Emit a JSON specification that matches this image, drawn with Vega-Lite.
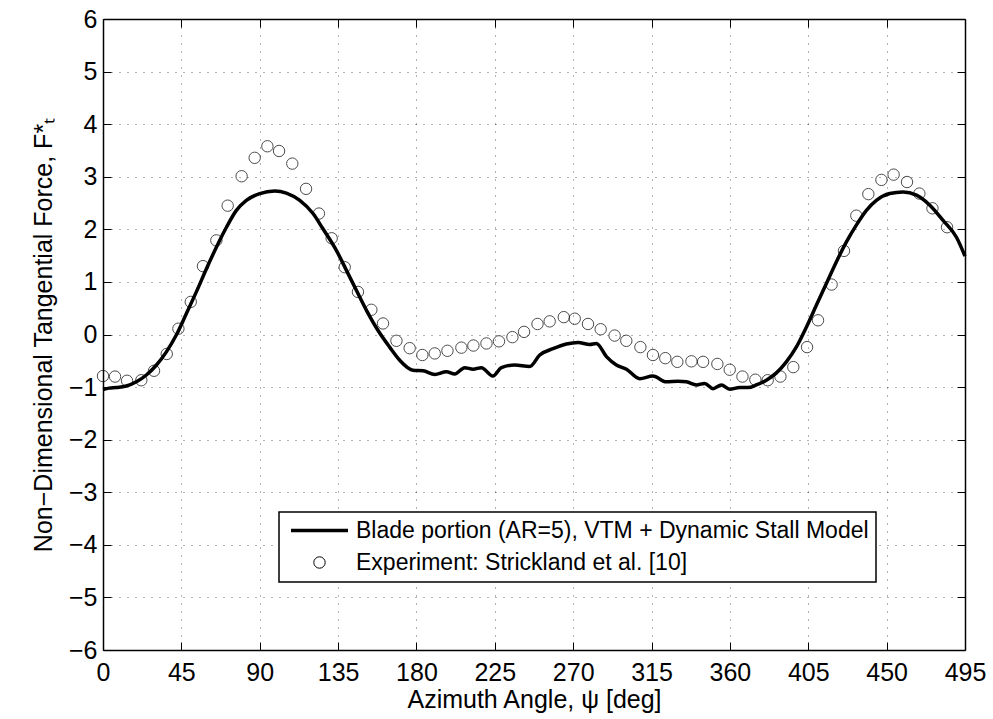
{
  "$schema": "https://vega.github.io/schema/vega-lite/v6.json",
  "width": 862,
  "height": 631,
  "autosize": {"type": "none"},
  "padding": {"left": 103, "top": 19, "right": 28, "bottom": 69},
  "background": "white",
  "datasets": {
    "line": [
      {"psi": 0, "FT": -1.045, "series": "Blade portion (AR=5), VTM + Dynamic Stall Model"},
      {"psi": 3.5, "FT": -1.02, "series": "Blade portion (AR=5), VTM + Dynamic Stall Model"},
      {"psi": 7.7, "FT": -1.01, "series": "Blade portion (AR=5), VTM + Dynamic Stall Model"},
      {"psi": 13.4, "FT": -0.98, "series": "Blade portion (AR=5), VTM + Dynamic Stall Model"},
      {"psi": 19.2, "FT": -0.9, "series": "Blade portion (AR=5), VTM + Dynamic Stall Model"},
      {"psi": 24.9, "FT": -0.77, "series": "Blade portion (AR=5), VTM + Dynamic Stall Model"},
      {"psi": 30.7, "FT": -0.58, "series": "Blade portion (AR=5), VTM + Dynamic Stall Model"},
      {"psi": 36.4, "FT": -0.33, "series": "Blade portion (AR=5), VTM + Dynamic Stall Model"},
      {"psi": 42.1, "FT": -0.01, "series": "Blade portion (AR=5), VTM + Dynamic Stall Model"},
      {"psi": 47.9, "FT": 0.4, "series": "Blade portion (AR=5), VTM + Dynamic Stall Model"},
      {"psi": 53.6, "FT": 0.81, "series": "Blade portion (AR=5), VTM + Dynamic Stall Model"},
      {"psi": 59.4, "FT": 1.25, "series": "Blade portion (AR=5), VTM + Dynamic Stall Model"},
      {"psi": 65.1, "FT": 1.66, "series": "Blade portion (AR=5), VTM + Dynamic Stall Model"},
      {"psi": 70.9, "FT": 2.04, "series": "Blade portion (AR=5), VTM + Dynamic Stall Model"},
      {"psi": 76.6, "FT": 2.36, "series": "Blade portion (AR=5), VTM + Dynamic Stall Model"},
      {"psi": 82.3, "FT": 2.55, "series": "Blade portion (AR=5), VTM + Dynamic Stall Model"},
      {"psi": 90, "FT": 2.68, "series": "Blade portion (AR=5), VTM + Dynamic Stall Model"},
      {"psi": 98.6, "FT": 2.73, "series": "Blade portion (AR=5), VTM + Dynamic Stall Model"},
      {"psi": 105.3, "FT": 2.69, "series": "Blade portion (AR=5), VTM + Dynamic Stall Model"},
      {"psi": 113, "FT": 2.55, "series": "Blade portion (AR=5), VTM + Dynamic Stall Model"},
      {"psi": 120.6, "FT": 2.3, "series": "Blade portion (AR=5), VTM + Dynamic Stall Model"},
      {"psi": 126.3, "FT": 2.01, "series": "Blade portion (AR=5), VTM + Dynamic Stall Model"},
      {"psi": 134, "FT": 1.6, "series": "Blade portion (AR=5), VTM + Dynamic Stall Model"},
      {"psi": 139.8, "FT": 1.22, "series": "Blade portion (AR=5), VTM + Dynamic Stall Model"},
      {"psi": 145.5, "FT": 0.84, "series": "Blade portion (AR=5), VTM + Dynamic Stall Model"},
      {"psi": 151.3, "FT": 0.46, "series": "Blade portion (AR=5), VTM + Dynamic Stall Model"},
      {"psi": 157.5, "FT": 0.1, "series": "Blade portion (AR=5), VTM + Dynamic Stall Model"},
      {"psi": 164.6, "FT": -0.24, "series": "Blade portion (AR=5), VTM + Dynamic Stall Model"},
      {"psi": 170.4, "FT": -0.49, "series": "Blade portion (AR=5), VTM + Dynamic Stall Model"},
      {"psi": 178, "FT": -0.68, "series": "Blade portion (AR=5), VTM + Dynamic Stall Model"},
      {"psi": 183.8, "FT": -0.69, "series": "Blade portion (AR=5), VTM + Dynamic Stall Model"},
      {"psi": 190.5, "FT": -0.76, "series": "Blade portion (AR=5), VTM + Dynamic Stall Model"},
      {"psi": 197.2, "FT": -0.71, "series": "Blade portion (AR=5), VTM + Dynamic Stall Model"},
      {"psi": 202, "FT": -0.75, "series": "Blade portion (AR=5), VTM + Dynamic Stall Model"},
      {"psi": 207.7, "FT": -0.63, "series": "Blade portion (AR=5), VTM + Dynamic Stall Model"},
      {"psi": 212.5, "FT": -0.66, "series": "Blade portion (AR=5), VTM + Dynamic Stall Model"},
      {"psi": 217.3, "FT": -0.63, "series": "Blade portion (AR=5), VTM + Dynamic Stall Model"},
      {"psi": 223.9, "FT": -0.79, "series": "Blade portion (AR=5), VTM + Dynamic Stall Model"},
      {"psi": 228.8, "FT": -0.63, "series": "Blade portion (AR=5), VTM + Dynamic Stall Model"},
      {"psi": 236.4, "FT": -0.58, "series": "Blade portion (AR=5), VTM + Dynamic Stall Model"},
      {"psi": 245, "FT": -0.61, "series": "Blade portion (AR=5), VTM + Dynamic Stall Model"},
      {"psi": 250.8, "FT": -0.39, "series": "Blade portion (AR=5), VTM + Dynamic Stall Model"},
      {"psi": 258.4, "FT": -0.27, "series": "Blade portion (AR=5), VTM + Dynamic Stall Model"},
      {"psi": 266.1, "FT": -0.18, "series": "Blade portion (AR=5), VTM + Dynamic Stall Model"},
      {"psi": 272.8, "FT": -0.15, "series": "Blade portion (AR=5), VTM + Dynamic Stall Model"},
      {"psi": 279.5, "FT": -0.19, "series": "Blade portion (AR=5), VTM + Dynamic Stall Model"},
      {"psi": 283.3, "FT": -0.17, "series": "Blade portion (AR=5), VTM + Dynamic Stall Model"},
      {"psi": 289.1, "FT": -0.42, "series": "Blade portion (AR=5), VTM + Dynamic Stall Model"},
      {"psi": 294.8, "FT": -0.58, "series": "Blade portion (AR=5), VTM + Dynamic Stall Model"},
      {"psi": 300.6, "FT": -0.66, "series": "Blade portion (AR=5), VTM + Dynamic Stall Model"},
      {"psi": 308.2, "FT": -0.84, "series": "Blade portion (AR=5), VTM + Dynamic Stall Model"},
      {"psi": 315.8, "FT": -0.79, "series": "Blade portion (AR=5), VTM + Dynamic Stall Model"},
      {"psi": 323.5, "FT": -0.9, "series": "Blade portion (AR=5), VTM + Dynamic Stall Model"},
      {"psi": 330.2, "FT": -0.89, "series": "Blade portion (AR=5), VTM + Dynamic Stall Model"},
      {"psi": 335, "FT": -0.9, "series": "Blade portion (AR=5), VTM + Dynamic Stall Model"},
      {"psi": 340.8, "FT": -0.96, "series": "Blade portion (AR=5), VTM + Dynamic Stall Model"},
      {"psi": 345.5, "FT": -0.93, "series": "Blade portion (AR=5), VTM + Dynamic Stall Model"},
      {"psi": 350.3, "FT": -1.03, "series": "Blade portion (AR=5), VTM + Dynamic Stall Model"},
      {"psi": 355.1, "FT": -0.96, "series": "Blade portion (AR=5), VTM + Dynamic Stall Model"},
      {"psi": 359.9, "FT": -1.04, "series": "Blade portion (AR=5), VTM + Dynamic Stall Model"},
      {"psi": 365.6, "FT": -1.01, "series": "Blade portion (AR=5), VTM + Dynamic Stall Model"},
      {"psi": 370.4, "FT": -1.01, "series": "Blade portion (AR=5), VTM + Dynamic Stall Model"},
      {"psi": 375.2, "FT": -0.96, "series": "Blade portion (AR=5), VTM + Dynamic Stall Model"},
      {"psi": 380.9, "FT": -0.87, "series": "Blade portion (AR=5), VTM + Dynamic Stall Model"},
      {"psi": 386.7, "FT": -0.73, "series": "Blade portion (AR=5), VTM + Dynamic Stall Model"},
      {"psi": 392.4, "FT": -0.52, "series": "Blade portion (AR=5), VTM + Dynamic Stall Model"},
      {"psi": 398.1, "FT": -0.24, "series": "Blade portion (AR=5), VTM + Dynamic Stall Model"},
      {"psi": 403.9, "FT": 0.14, "series": "Blade portion (AR=5), VTM + Dynamic Stall Model"},
      {"psi": 409.7, "FT": 0.56, "series": "Blade portion (AR=5), VTM + Dynamic Stall Model"},
      {"psi": 415.4, "FT": 0.97, "series": "Blade portion (AR=5), VTM + Dynamic Stall Model"},
      {"psi": 421.1, "FT": 1.38, "series": "Blade portion (AR=5), VTM + Dynamic Stall Model"},
      {"psi": 426.9, "FT": 1.76, "series": "Blade portion (AR=5), VTM + Dynamic Stall Model"},
      {"psi": 432.6, "FT": 2.08, "series": "Blade portion (AR=5), VTM + Dynamic Stall Model"},
      {"psi": 438.4, "FT": 2.36, "series": "Blade portion (AR=5), VTM + Dynamic Stall Model"},
      {"psi": 444.1, "FT": 2.55, "series": "Blade portion (AR=5), VTM + Dynamic Stall Model"},
      {"psi": 451.8, "FT": 2.68, "series": "Blade portion (AR=5), VTM + Dynamic Stall Model"},
      {"psi": 459.4, "FT": 2.71, "series": "Blade portion (AR=5), VTM + Dynamic Stall Model"},
      {"psi": 467.1, "FT": 2.65, "series": "Blade portion (AR=5), VTM + Dynamic Stall Model"},
      {"psi": 474.8, "FT": 2.46, "series": "Blade portion (AR=5), VTM + Dynamic Stall Model"},
      {"psi": 482.4, "FT": 2.17, "series": "Blade portion (AR=5), VTM + Dynamic Stall Model"},
      {"psi": 490.1, "FT": 1.85, "series": "Blade portion (AR=5), VTM + Dynamic Stall Model"},
      {"psi": 495, "FT": 1.49, "series": "Blade portion (AR=5), VTM + Dynamic Stall Model"}
    ],
    "exp": [
      {"psi": 0, "FT": -0.79, "series": "Experiment: Strickland et al. [10]"},
      {"psi": 6.9, "FT": -0.8, "series": "Experiment: Strickland et al. [10]"},
      {"psi": 13.8, "FT": -0.88, "series": "Experiment: Strickland et al. [10]"},
      {"psi": 22, "FT": -0.87, "series": "Experiment: Strickland et al. [10]"},
      {"psi": 29.3, "FT": -0.69, "series": "Experiment: Strickland et al. [10]"},
      {"psi": 36.6, "FT": -0.37, "series": "Experiment: Strickland et al. [10]"},
      {"psi": 43.3, "FT": 0.11, "series": "Experiment: Strickland et al. [10]"},
      {"psi": 50.4, "FT": 0.62, "series": "Experiment: Strickland et al. [10]"},
      {"psi": 57.4, "FT": 1.3, "series": "Experiment: Strickland et al. [10]"},
      {"psi": 65.1, "FT": 1.79, "series": "Experiment: Strickland et al. [10]"},
      {"psi": 71.6, "FT": 2.45, "series": "Experiment: Strickland et al. [10]"},
      {"psi": 79.6, "FT": 3.01, "series": "Experiment: Strickland et al. [10]"},
      {"psi": 87.1, "FT": 3.36, "series": "Experiment: Strickland et al. [10]"},
      {"psi": 94.4, "FT": 3.58, "series": "Experiment: Strickland et al. [10]"},
      {"psi": 101.1, "FT": 3.49, "series": "Experiment: Strickland et al. [10]"},
      {"psi": 108.7, "FT": 3.25, "series": "Experiment: Strickland et al. [10]"},
      {"psi": 116.6, "FT": 2.77, "series": "Experiment: Strickland et al. [10]"},
      {"psi": 124, "FT": 2.3, "series": "Experiment: Strickland et al. [10]"},
      {"psi": 131.3, "FT": 1.83, "series": "Experiment: Strickland et al. [10]"},
      {"psi": 138.8, "FT": 1.28, "series": "Experiment: Strickland et al. [10]"},
      {"psi": 146.4, "FT": 0.81, "series": "Experiment: Strickland et al. [10]"},
      {"psi": 154.1, "FT": 0.47, "series": "Experiment: Strickland et al. [10]"},
      {"psi": 160.8, "FT": 0.21, "series": "Experiment: Strickland et al. [10]"},
      {"psi": 168.5, "FT": -0.12, "series": "Experiment: Strickland et al. [10]"},
      {"psi": 176.1, "FT": -0.26, "series": "Experiment: Strickland et al. [10]"},
      {"psi": 183.4, "FT": -0.39, "series": "Experiment: Strickland et al. [10]"},
      {"psi": 190.5, "FT": -0.36, "series": "Experiment: Strickland et al. [10]"},
      {"psi": 197.8, "FT": -0.31, "series": "Experiment: Strickland et al. [10]"},
      {"psi": 205.8, "FT": -0.25, "series": "Experiment: Strickland et al. [10]"},
      {"psi": 212.7, "FT": -0.21, "series": "Experiment: Strickland et al. [10]"},
      {"psi": 220.2, "FT": -0.17, "series": "Experiment: Strickland et al. [10]"},
      {"psi": 227.4, "FT": -0.13, "series": "Experiment: Strickland et al. [10]"},
      {"psi": 235.1, "FT": -0.05, "series": "Experiment: Strickland et al. [10]"},
      {"psi": 241.8, "FT": 0.05, "series": "Experiment: Strickland et al. [10]"},
      {"psi": 249.5, "FT": 0.2, "series": "Experiment: Strickland et al. [10]"},
      {"psi": 256.5, "FT": 0.25, "series": "Experiment: Strickland et al. [10]"},
      {"psi": 264.6, "FT": 0.33, "series": "Experiment: Strickland et al. [10]"},
      {"psi": 270.9, "FT": 0.3, "series": "Experiment: Strickland et al. [10]"},
      {"psi": 278.5, "FT": 0.2, "series": "Experiment: Strickland et al. [10]"},
      {"psi": 285.8, "FT": 0.1, "series": "Experiment: Strickland et al. [10]"},
      {"psi": 293.8, "FT": -0.02, "series": "Experiment: Strickland et al. [10]"},
      {"psi": 300.5, "FT": -0.12, "series": "Experiment: Strickland et al. [10]"},
      {"psi": 308.6, "FT": -0.24, "series": "Experiment: Strickland et al. [10]"},
      {"psi": 315.8, "FT": -0.39, "series": "Experiment: Strickland et al. [10]"},
      {"psi": 322.9, "FT": -0.45, "series": "Experiment: Strickland et al. [10]"},
      {"psi": 329.8, "FT": -0.52, "series": "Experiment: Strickland et al. [10]"},
      {"psi": 337.9, "FT": -0.51, "series": "Experiment: Strickland et al. [10]"},
      {"psi": 344.6, "FT": -0.52, "series": "Experiment: Strickland et al. [10]"},
      {"psi": 352.8, "FT": -0.56, "series": "Experiment: Strickland et al. [10]"},
      {"psi": 359.9, "FT": -0.67, "series": "Experiment: Strickland et al. [10]"},
      {"psi": 367.2, "FT": -0.8, "series": "Experiment: Strickland et al. [10]"},
      {"psi": 374.6, "FT": -0.86, "series": "Experiment: Strickland et al. [10]"},
      {"psi": 381.7, "FT": -0.87, "series": "Experiment: Strickland et al. [10]"},
      {"psi": 389, "FT": -0.8, "series": "Experiment: Strickland et al. [10]"},
      {"psi": 396.4, "FT": -0.62, "series": "Experiment: Strickland et al. [10]"},
      {"psi": 404.3, "FT": -0.24, "series": "Experiment: Strickland et al. [10]"},
      {"psi": 410.6, "FT": 0.27, "series": "Experiment: Strickland et al. [10]"},
      {"psi": 418.4, "FT": 0.95, "series": "Experiment: Strickland et al. [10]"},
      {"psi": 425.5, "FT": 1.59, "series": "Experiment: Strickland et al. [10]"},
      {"psi": 432.6, "FT": 2.26, "series": "Experiment: Strickland et al. [10]"},
      {"psi": 439.5, "FT": 2.67, "series": "Experiment: Strickland et al. [10]"},
      {"psi": 447, "FT": 2.94, "series": "Experiment: Strickland et al. [10]"},
      {"psi": 454, "FT": 3.04, "series": "Experiment: Strickland et al. [10]"},
      {"psi": 461.7, "FT": 2.9, "series": "Experiment: Strickland et al. [10]"},
      {"psi": 468.8, "FT": 2.68, "series": "Experiment: Strickland et al. [10]"},
      {"psi": 476.3, "FT": 2.4, "series": "Experiment: Strickland et al. [10]"},
      {"psi": 484.7, "FT": 2.04, "series": "Experiment: Strickland et al. [10]"}
    ]
  },
  "layer": [
    {
      "data": {"name": "line"},
      "mark": {"type": "line", "strokeWidth": 3.5, "interpolate": "monotone"},
      "encoding": {
        "x": {
          "field": "psi", "type": "quantitative",
          "scale": {"domain": [0, 495], "nice": false, "zero": false},
          "axis": {
            "orient": "bottom",
            "values": [0, 45, 90, 135, 180, 225, 270, 315, 360, 405, 450, 495],
            "title": "Azimuth Angle, ψ [deg]",
            "labelPadding": 18, "titlePadding": 2, "labelFlush": false, "grid": true
          }
        },
        "y": {
          "field": "FT", "type": "quantitative",
          "scale": {"domain": [-6, 6], "nice": false, "zero": false},
          "axis": {
            "orient": "left",
            "values": [-6, -5, -4, -3, -2, -1, 0, 1, 2, 3, 4, 5, 6],
            "title": "Non−Dimensional Tangential Force, F*ₜ",
            "labelPadding": 14, "titlePadding": 12, "labelFlush": false, "grid": true
          }
        },
        "color": {
          "field": "series", "type": "nominal",
          "scale": {
            "domain": ["Blade portion (AR=5), VTM + Dynamic Stall Model", "Experiment: Strickland et al. [10]"],
            "range": ["black", "black"]
          },
          "legend": {
            "title": null,
            "orient": "none",
            "legendX": 176,
            "legendY": 493,
            "direction": "vertical",
            "padding": 7,
            "rowPadding": 8,
            "labelFont": "Liberation Sans",
            "labelFontSize": 23,
            "labelColor": "black",
            "labelLimit": 800,
            "symbolOffset": 22,
            "labelOffset": 25,
            "symbolSize": 130,
            "symbolType": "circle",
            "strokeColor": "black",
            "fillColor": "white",
            "encode": {
              "symbols": {
                "update": {
                  "shape": {"signal": "datum.index === 0 ? 'stroke' : 'circle'"},
                  "size": {"signal": "datum.index === 0 ? 3249 : 130"},
                  "strokeWidth": {"signal": "datum.index === 0 ? 3.5 : 1"},
                  "stroke": {"value": "black"},
                  "fill": {"value": "transparent"},
                  "opacity": {"value": 1}
                }
              },
              "legend": {"update": {"strokeWidth": {"value": 1.5}}}
            }
          }
        }
      }
    },
    {
      "data": {"name": "exp"},
      "mark": {"type": "point", "shape": "circle", "filled": false, "size": 130, "strokeWidth": 1},
      "encoding": {
        "x": {
          "field": "psi", "type": "quantitative",
          "axis": {
            "orient": "top",
            "values": [0, 45, 90, 135, 180, 225, 270, 315, 360, 405, 450, 495],
            "labels": false, "title": null, "grid": false
          }
        },
        "y": {
          "field": "FT", "type": "quantitative",
          "axis": {
            "orient": "right",
            "values": [-6, -5, -4, -3, -2, -1, 0, 1, 2, 3, 4, 5, 6],
            "labels": false, "title": null, "grid": false
          }
        },
        "color": {"field": "series", "type": "nominal"}
      }
    }
  ],
  "resolve": {"axis": {"x": "independent", "y": "independent"}},
  "config": {
    "view": {"stroke": null},
    "axis": {
      "labelFont": "Liberation Sans",
      "labelFontSize": 25,
      "labelColor": "black",
      "titleFont": "Liberation Sans",
      "titleFontSize": 25,
      "titleFontWeight": "normal",
      "titleColor": "black",
      "domainColor": "black",
      "domainWidth": 1.5,
      "tickColor": "black",
      "tickSize": -8,
      "tickWidth": 1,
      "gridColor": "black",
      "gridDash": [1, 7],
      "gridOpacity": 0.6,
      "gridWidth": 1
    }
  }
}
